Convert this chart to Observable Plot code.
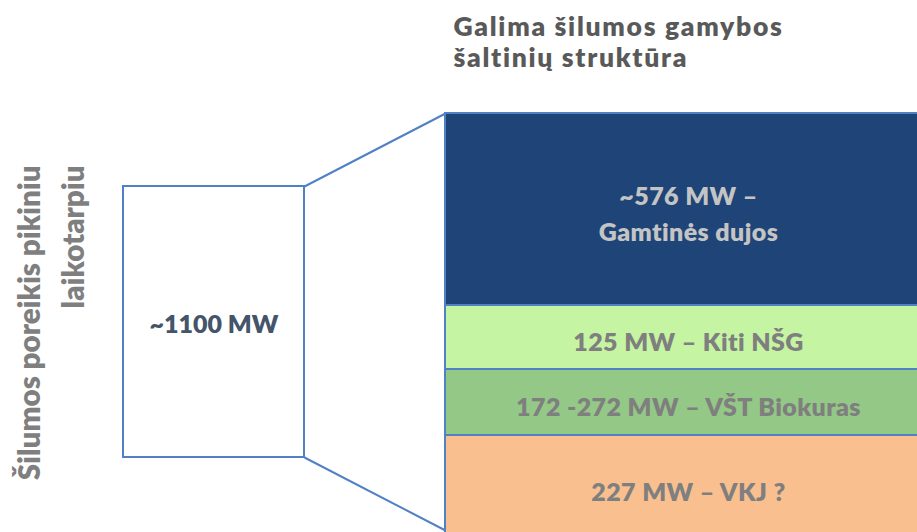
<!DOCTYPE html>
<html>
<head>
<meta charset="utf-8">
<script src="https://cdn.jsdelivr.net/npm/d3@7"></script>
<script src="https://cdn.jsdelivr.net/npm/@observablehq/plot@0.6"></script>
<style>
  html, body { margin: 0; padding: 0; background: #fff; overflow: hidden; }
  #chart svg { display: block; }
</style>
</head>
<body>
<div id="chart"></div>
<script>
// ---- data ----
const titleText = "Galima šilumos gamybos\nšaltinių struktūra";
const demandAxisLabel = "Šilumos poreikis pikiniu\nlaikotarpiu";
const demandLabel = "~1100 MW";
const sourceLabels = ["~576 MW –\nGamtinės dujos", "125 MW – Kiti NŠG", "172 -272 MW – VŠT Biokuras", "227 MW – VKJ ?"];
const sourceBands = [192, 64, 66, 104]; // band heights as drawn in the picture

// ---- styles & layout ----
const sourceFills = ["#1f4477", "#c5f5a2", "#93c886", "#f9bf8f"];
const sourceTextColors = ["#c4c4c4", "#7f7f7f", "#7f7f7f", "#7f7f7f"];
const edge = "#5081c4";
const W = 917, H = 532;
const stack = {x1: 445, x2: 931, top: 113};
const box = {x1: 123, x2: 304, y1: 186, y2: 457};
const funnelBottom = 530;
const FONT = "Lato, 'Open Sans', sans-serif";
const WEIGHT = 800;

const ends = d3.cumsum(sourceBands);
const segments = sourceLabels.map((label, i) => ({
  label,
  fill: sourceFills[i],
  color: sourceTextColors[i],
  y1: stack.top + (ends[i] - sourceBands[i]),
  y2: stack.top + ends[i],
  x1: stack.x1,
  x2: stack.x2
}));
const demand = [{label: demandLabel, ...box}];
const funnel = [
  {x1: box.x2, y1: box.y1, x2: stack.x1, y2: stack.top},
  {x1: box.x2, y1: box.y2, x2: stack.x1, y2: funnelBottom}
];

const chart = Plot.plot({
  width: W,
  height: H,
  margin: 0,
  x: {type: "linear", domain: [0, W], range: [0, W], axis: null},
  y: {type: "linear", domain: [0, H], range: [0, H], axis: null},
  style: {fontFamily: FONT, background: "#fff"},
  marks: [
    Plot.link(funnel, {x1: "x1", y1: "y1", x2: "x2", y2: "y2", stroke: edge, strokeWidth: 2}),
    Plot.rect(demand, {x1: "x1", x2: "x2", y1: "y1", y2: "y2", fill: "#fff", stroke: edge, strokeWidth: 2}),
    Plot.rect(segments, {x1: "x1", x2: "x2", y1: "y1", y2: "y2", fill: "fill", stroke: edge, strokeWidth: 2}),
    Plot.text(segments, {
      x: d => (d.x1 + d.x2) / 2,
      y: d => (d.y1 + d.y2) / 2 + 2,
      text: "label",
      fill: "color",
      fontSize: 25,
      fontWeight: WEIGHT,
      lineHeight: 1.42,
      lineAnchor: "middle"
    }),
    Plot.text(demand, {
      x: d => (d.x1 + d.x2) / 2,
      y: d => (d.y1 + d.y2) / 2 + 3,
      text: "label",
      fill: "#44546a",
      fontSize: 25,
      fontWeight: WEIGHT,
      lineAnchor: "middle"
    }),
    Plot.text([titleText], {
      x: 453,
      y: 13,
      text: d => d,
      textAnchor: "start",
      lineAnchor: "top",
      fill: "#595959",
      fontSize: 26.5,
      fontWeight: WEIGHT,
      lineHeight: 1.17
    }),
    Plot.text([demandAxisLabel], {
      x: 83,
      y: 165,
      text: d => d,
      rotate: -90,
      textAnchor: "end",
      lineAnchor: "bottom",
      fill: "#7f7f7f",
      fontSize: 29.5,
      fontWeight: WEIGHT,
      lineHeight: 1.46
    })
  ]
});
// letter spacing to match the wider original typeface
const textGroups = d3.select(chart).selectAll("g[aria-label='text']").nodes();
d3.select(textGroups[0]).attr("letter-spacing", "0.4px");
d3.select(textGroups[2]).attr("letter-spacing", "1.7px");
document.getElementById("chart").appendChild(chart);
</script>
</body>
</html>
